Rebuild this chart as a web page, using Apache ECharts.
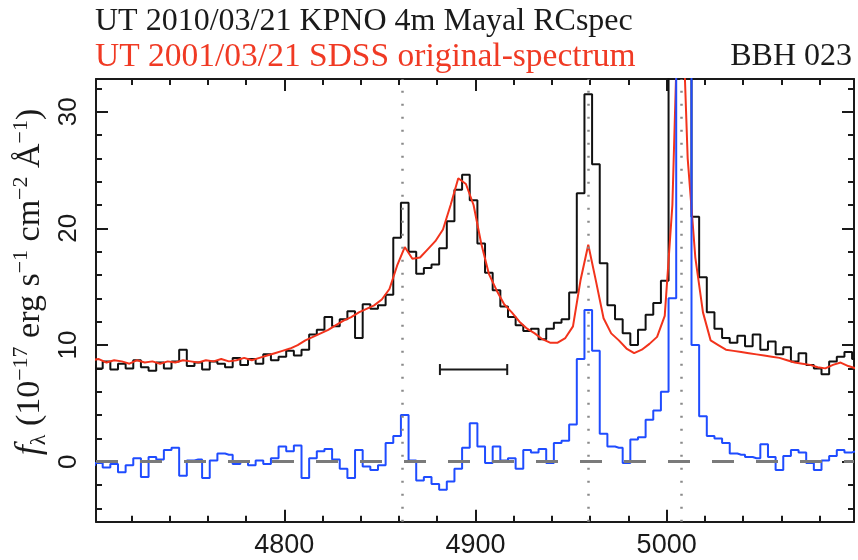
<!DOCTYPE html>
<html>
<head>
<meta charset="utf-8">
<script src="https://cdn.jsdelivr.net/npm/echarts@6/dist/echarts.min.js"></script>
<style>
html,body{margin:0;padding:0;background:#fff;}
#chart{width:858px;height:560px;}
</style>
</head>
<body>
<div id="chart"></div>
<script>
// ---- data ----
const wavelength = [
  4699,4703,4707,4711,4715,4719,4723,4727,4731,4735,
  4739,4743,4747,4751,4755,4759,4763,4767,4771,4775,
  4779,4783,4787,4791,4795,4799,4803,4807,4811,4815,
  4819,4823,4827,4831,4835,4839,4843,4847,4851,4855,
  4859,4863,4867,4871,4875,4879,4883,4887,4891,4895,
  4899,4903,4907,4911,4915,4919,4923,4927,4931,4935,
  4939,4943,4947,4951,4955,4959,4963,4967,4971,4975,
  4979,4983,4987,4991,4995,4999,5003,5007,5011,5015,
  5019,5023,5027,5031,5035,5039,5043,5047,5051,5055,
  5059,5063,5067,5071,5075,5079,5083,5087,5091,5095,
  5099
];
// UT 2010/03/21 KPNO 4m Mayal RCspec (black)
const kpno = [
  8.3, 8.0, 8.6, 7.9, 8.4, 8.0, 8.7, 8.1, 7.8, 8.5,
  8.0, 8.6, 9.6, 8.2, 8.5, 7.9, 8.6, 8.4, 8.1, 8.9,
  8.3, 8.8, 8.4, 9.2, 8.7, 9.0, 9.5, 9.1, 9.6, 10.9,
  11.3, 12.4, 11.6, 12.2, 12.9, 10.6, 13.5, 13.1, 13.4, 14.3,
  19.2, 22.2, 18.0, 16.1, 16.6, 16.9, 18.3, 20.6, 23.3, 24.6,
  22.4, 18.7, 16.2, 14.7, 13.3, 12.4, 11.7, 11.2, 11.4, 10.5,
  11.4, 11.9, 12.2, 14.5, 23.0, 31.5, 25.5, 17.0, 13.4, 12.2,
  11.0, 10.0, 11.3, 12.6, 13.6, 15.5, 45.0, 60.0, 42.0, 21.0,
  15.8, 12.8, 11.4, 10.6, 10.2, 10.8, 9.9, 10.9, 9.6, 10.3,
  9.2, 9.8, 8.6, 9.3, 8.3, 8.0, 7.5, 8.6, 9.0, 9.4,
  8.8
];
// UT 2001/03/21 SDSS original-spectrum (red)
const sdss = [
  8.7, 8.8, 8.5, 8.7, 8.6, 8.4, 8.7, 8.5, 8.6, 8.4,
  8.6, 8.5, 8.7, 8.6, 8.5, 8.7, 8.6, 8.8, 8.6, 8.7,
  8.9, 8.7, 8.9, 9.1, 9.3, 9.5, 9.7, 10.0, 10.4, 10.7,
  11.0, 11.3, 11.7, 12.1, 12.4, 12.8, 13.1, 13.4, 13.9, 14.8,
  16.8, 18.4, 17.4, 17.5, 18.2, 18.9, 19.9, 22.0, 24.3, 23.8,
  22.0, 18.7, 16.1, 14.7, 13.5, 12.8, 12.0, 11.4, 11.0, 10.5,
  10.2, 10.2, 10.6, 11.6, 15.6, 18.6, 15.5, 12.3, 11.0, 10.4,
  9.7, 9.3, 9.6, 10.1, 10.7, 12.5, 22.0, 45.0, 26.0, 17.5,
  12.8, 10.4, 10.0, 9.6, 9.5, 9.4, 9.3, 9.2, 9.1, 9.0,
  8.9, 8.7, 8.5, 8.4, 8.3, 8.1, 8.0, 8.3, 8.5, 8.2,
  8.0
];
// difference spectrum (blue)
const difference = [
  -0.3, -0.1, -0.5, -0.2, -0.9, -0.3, 0.3, -1.3, 0.4, 0.2,
  1.0, 1.2, -1.2, 0.1, 0.2, -1.4, 0.1, 0.7, 0.6, -0.2,
  0.0, -0.3, 0.1, -0.2, 0.3, 1.3, 0.9, 1.4, -1.4, 0.3,
  0.9, 1.1, 0.2, -0.6, -1.4, 1.0, -0.4, -0.7, -0.3, 1.6,
  2.2, 4.0, 0.1, -1.6, -1.3, -1.9, -2.4, -1.7, -0.6, 1.2,
  3.3, 1.3, -0.1, 1.3, 0.1, 0.3, -0.6, 1.0, 0.8, 1.1,
  -0.1, 1.6, 1.8, 3.2, 8.8, 13.0, 9.5, 2.4, 1.3, 1.2,
  -0.1, 1.9, 2.1, 3.6, 4.4, 6.0, 14.0, 42.0, 35.0, 10.0,
  3.9, 2.2, 2.0, 1.6, 0.7, 0.6, 0.4, 0.3, 1.5, 0.4,
  -0.7, 0.5, 1.0, 0.8, -0.1, -0.7, 0.1, 0.5, 1.0, 0.8,
  0.9
];
const lineCentres = [4861.5, 4959, 5007.5];   // dotted vertical lines
const scaleBarX = [4881.4, 4916.6];           // horizontal bar
const scaleBarY = 7.9;
const xRange = [4701.5, 5098];
const yRange = [-5.14, 32.8];
const xMajorTicks = [4800, 4900, 5000];
const xMinorTicks = [4720, 4740, 4760, 4780, 4820, 4840, 4860, 4880, 4920, 4940, 4960, 4980, 5020, 5040, 5060, 5080];
const yMajorTicks = [0, 10, 20, 30];
const yMinorTicks = [-4, -2, 2, 4, 6, 8, 12, 14, 16, 18, 22, 24, 26, 28, 32];
const titleBlack = 'UT 2010/03/21 KPNO 4m Mayal RCspec';
const titleRed = 'UT 2001/03/21 SDSS original-spectrum';
const objectName = 'BBH 023';

// ---- chart ----
const FRAME = '#1a1a1a';
const pairs = (ys) => wavelength.map((w, i) => [w, ys[i]]);

function xAxisDef(position, ticks, len, line, labels) {
  return {
    type: 'value', min: xRange[0], max: xRange[1], position: position,
    axisLine: { show: line, onZero: false, lineStyle: { color: FRAME, width: 2 } },
    axisTick: { show: true, inside: true, length: len, customValues: ticks, lineStyle: { color: FRAME, width: 2 } },
    axisLabel: labels ? { show: true, customValues: ticks, margin: 10, fontSize: 27, fontFamily: 'Liberation Sans', color: '#1a1a1a', formatter: v => String(v) } : { show: false },
    splitLine: { show: false }
  };
}
function yAxisDef(position, ticks, len, line, labels) {
  return {
    type: 'value', min: yRange[0], max: yRange[1], position: position,
    axisLine: { show: line, onZero: false, lineStyle: { color: FRAME, width: 2 } },
    axisTick: { show: true, inside: true, length: len, customValues: ticks, lineStyle: { color: FRAME, width: 2 } },
    axisLabel: labels ? { show: true, customValues: ticks, rotate: 90, margin: 14, fontSize: 26, fontFamily: 'Liberation Sans', color: '#1a1a1a', formatter: v => String(v) } : { show: false },
    splitLine: { show: false }
  };
}

const chart = echarts.init(document.getElementById('chart'), null, { renderer: 'canvas' });
const serifMain = { fontSize: 34, fontFamily: 'Liberation Serif', fill: '#1a1a1a', lineHeight: 40 };
const option = {
  animation: false,
  backgroundColor: '#ffffff',
  grid: { left: 96, top: 79, right: 4, bottom: 38.3 },
  xAxis: [
    xAxisDef('bottom', xMajorTicks, 12, true, true),
    xAxisDef('bottom', xMinorTicks, 6, false, false),
    xAxisDef('top', xMajorTicks, 12, true, false),
    xAxisDef('top', xMinorTicks, 6, false, false)
  ],
  yAxis: [
    yAxisDef('left', yMajorTicks, 12, true, true),
    yAxisDef('left', yMinorTicks, 6, false, false),
    yAxisDef('right', yMajorTicks, 12, true, false),
    yAxisDef('right', yMinorTicks, 6, false, false)
  ],
  graphic: [
    { type: 'text', x: 95, y: 22, style: { text: titleBlack, font: '32px "Liberation Serif"', fill: '#1a1a1a', verticalAlign: 'middle', align: 'left' } },
    { type: 'text', x: 95, y: 57, style: { text: titleRed, font: '33.5px "Liberation Serif"', fill: '#f03a24', verticalAlign: 'middle', align: 'left' } },
    { type: 'text', x: 852, y: 57, style: { text: objectName, font: '32px "Liberation Serif"', fill: '#1a1a1a', verticalAlign: 'middle', align: 'right' } },
    { type: 'text', x: 30, y: 282, rotation: Math.PI / 2,
      style: {
        text: '{i|f}{sub|λ}{n| (10}{sup|−17}{n| erg s}{sup|−1}{n| cm}{sup|−2}{n| Å}{sup|−1}{n|)}',
        align: 'center', verticalAlign: 'middle', fill: '#1a1a1a',
        rich: {
          n: serifMain,
          i: { fontSize: 36, fontFamily: 'Liberation Serif', fontStyle: 'italic', fill: '#1a1a1a', lineHeight: 40 },
          sup: { fontSize: 22, fontFamily: 'Liberation Serif', fill: '#1a1a1a', lineHeight: 22, verticalAlign: 'top' },
          sub: { fontSize: 22, fontFamily: 'Liberation Serif', fill: '#1a1a1a', lineHeight: 22, verticalAlign: 'bottom' }
        }
      }
    }
  ],
  series: [
    {
      name: 'guides', type: 'line', data: [], silent: true, z: 1,
      markLine: {
        silent: true, symbol: ['none', 'none'], label: { show: false },
        lineStyle: { color: '#8a8a8a', width: 2.5, type: [2, 11] },
        data: lineCentres.map(v => ({ xAxis: v })).concat([
          { yAxis: 0, lineStyle: { color: '#7a7a7a', width: 3, type: [22, 22] } }
        ])
      }
    },
    {
      name: titleBlack, type: 'line', step: 'middle', data: pairs(kpno), showSymbol: false, z: 2,
      lineStyle: { color: '#111111', width: 2 }, itemStyle: { color: '#111111' }
    },
    {
      name: titleRed, type: 'line', data: pairs(sdss), showSymbol: false, z: 3,
      lineStyle: { color: '#f2331c', width: 2 }, itemStyle: { color: '#f2331c' }
    },
    {
      name: 'difference', type: 'line', step: 'middle', data: pairs(difference), showSymbol: false, z: 4,
      lineStyle: { color: '#1f4cff', width: 2 }, itemStyle: { color: '#1f4cff' }
    },
    {
      name: 'bar', type: 'line', data: scaleBarX.map(x => [x, scaleBarY]), z: 5,
      symbol: 'rect', symbolSize: [2, 11], showSymbol: true,
      lineStyle: { color: '#1a1a1a', width: 2 }, itemStyle: { color: '#1a1a1a' }
    }
  ]
};
chart.setOption(option);
</script>
</body>
</html>
